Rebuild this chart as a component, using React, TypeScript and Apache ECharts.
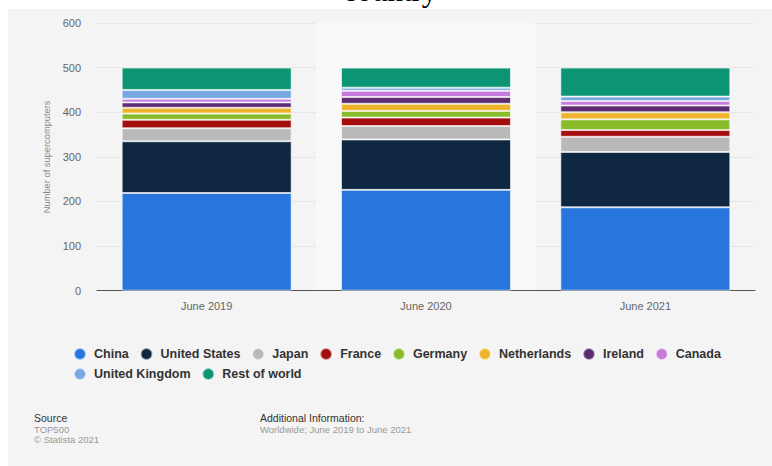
import React, { useEffect, useRef } from "react";
import * as echarts from "echarts";

const categories = ["June 2019", "June 2020", "June 2021"];
const china = [219, 226, 187];
const unitedStates = [116, 113, 124];
const japan = [29, 30, 34];
const france = [19, 19, 15];
const germany = [14, 15, 24];
const netherlands = [13, 16, 16];
const ireland = [12, 15, 15];
const canada = [8, 14, 10];
const unitedKingdom = [20, 7, 10];
const restOfWorld = [50, 45, 65];
const yTicks = [0, 100, 200, 300, 400, 500, 600];

const seriesDefs = [
  { name: "China", data: china, color: "#2876dd" },
  { name: "United States", data: unitedStates, color: "#0f2740" },
  { name: "Japan", data: japan, color: "#b9b9b9" },
  { name: "France", data: france, color: "#a50e0e" },
  { name: "Germany", data: germany, color: "#8abb2a" },
  { name: "Netherlands", data: netherlands, color: "#eeb42b" },
  { name: "Ireland", data: ireland, color: "#5c2b72" },
  { name: "Canada", data: canada, color: "#c57bdd" },
  { name: "United Kingdom", data: unitedKingdom, color: "#78a8e2" },
  { name: "Rest of world", data: restOfWorld, color: "#0b9574" },
];

const SANS = "'Liberation Sans', Arial, Helvetica, sans-serif";

export default function App() {
  const ref = useRef<HTMLDivElement>(null);
  useEffect(() => {
    if (!ref.current) return;
    const chart = echarts.init(ref.current, undefined, { renderer: "svg" });
    const legendText = {
      fontSize: 12.5,
      fontWeight: "bold" as const,
      color: "#333",
      fontFamily: SANS,
    };
    const legendBase = {
      left: 73,
      padding: 0,
      icon: "circle",
      itemWidth: 18,
      itemHeight: 12,
      itemGap: 10.8,
      selectedMode: false,
      textStyle: legendText,
    };
    chart.setOption({
      animation: false,
      graphic: [
        {
          type: "rect",
          z: -10,
          shape: { x: 8, y: 9, width: 764, height: 457 },
          style: { fill: "#f4f4f4" },
          silent: true,
        },
        {
          type: "text",
          x: 390,
          y: 6,
          style: {
            text: "country",
            fill: "#000",
            font: "31px 'Liberation Serif', 'Times New Roman', serif",
            textAlign: "center",
            textVerticalAlign: "bottom",
          },
        },
        {
          type: "text",
          x: 34,
          y: 418,
          style: { text: "Source", fill: "#333", fontSize: 10.5, fontFamily: SANS, textVerticalAlign: "middle" },
        },
        {
          type: "text",
          x: 34,
          y: 429,
          style: { text: "TOP500", fill: "#999", fontSize: 9.5, fontFamily: SANS, textVerticalAlign: "middle" },
        },
        {
          type: "text",
          x: 34,
          y: 439.5,
          style: { text: "© Statista 2021", fill: "#999", fontSize: 9.5, fontFamily: SANS, textVerticalAlign: "middle" },
        },
        {
          type: "text",
          x: 260,
          y: 418,
          style: { text: "Additional Information:", fill: "#333", fontSize: 10.5, fontFamily: SANS, textVerticalAlign: "middle" },
        },
        {
          type: "text",
          x: 260,
          y: 429,
          style: {
            text: "Worldwide; June 2019 to June 2021",
            fill: "#999",
            fontSize: 9.5,
            fontFamily: SANS,
            textVerticalAlign: "middle",
          },
        },
      ],
      legend: [
        { ...legendBase, top: 347, data: seriesDefs.slice(0, 8).map((s) => s.name) },
        { ...legendBase, top: 367, data: seriesDefs.slice(8).map((s) => s.name) },
      ],
      grid: { left: 97, right: 17, top: 23, bottom: 175.3 },
      xAxis: {
        type: "category",
        data: categories,
        axisLine: { lineStyle: { color: "#555", width: 1 } },
        axisTick: { show: false },
        axisLabel: { color: "#666", fontSize: 11, fontFamily: SANS, margin: 10 },
        splitArea: { show: true, areaStyle: { color: ["rgba(0,0,0,0)", "#f9f9f9"] } },
      },
      yAxis: {
        type: "value",
        min: yTicks[0],
        max: yTicks[yTicks.length - 1],
        interval: 100,
        name: "Number of supercomputers",
        nameLocation: "middle",
        nameGap: 44,
        nameTextStyle: { color: "#888", fontSize: 9.3, fontFamily: SANS },
        axisLine: { show: false },
        axisTick: { show: false },
        axisLabel: { color: "#666", fontSize: 11, fontFamily: SANS, margin: 16 },
        splitLine: { lineStyle: { color: "#d8d8d8", type: "dotted", width: 1 } },
      },
      series: seriesDefs.map((s) => ({
        name: s.name,
        type: "bar",
        stack: "total",
        barWidth: "77.5%",
        data: s.data,
        itemStyle: { color: s.color, borderColor: "rgba(255,255,255,0.6)", borderWidth: 1 },
        emphasis: { disabled: true },
      })),
    });
    return () => chart.dispose();
  }, []);
  return (
    <div
      ref={ref}
      style={{ position: "absolute", left: 0, top: 0, width: 772, height: 466 }}
    />
  );
}
